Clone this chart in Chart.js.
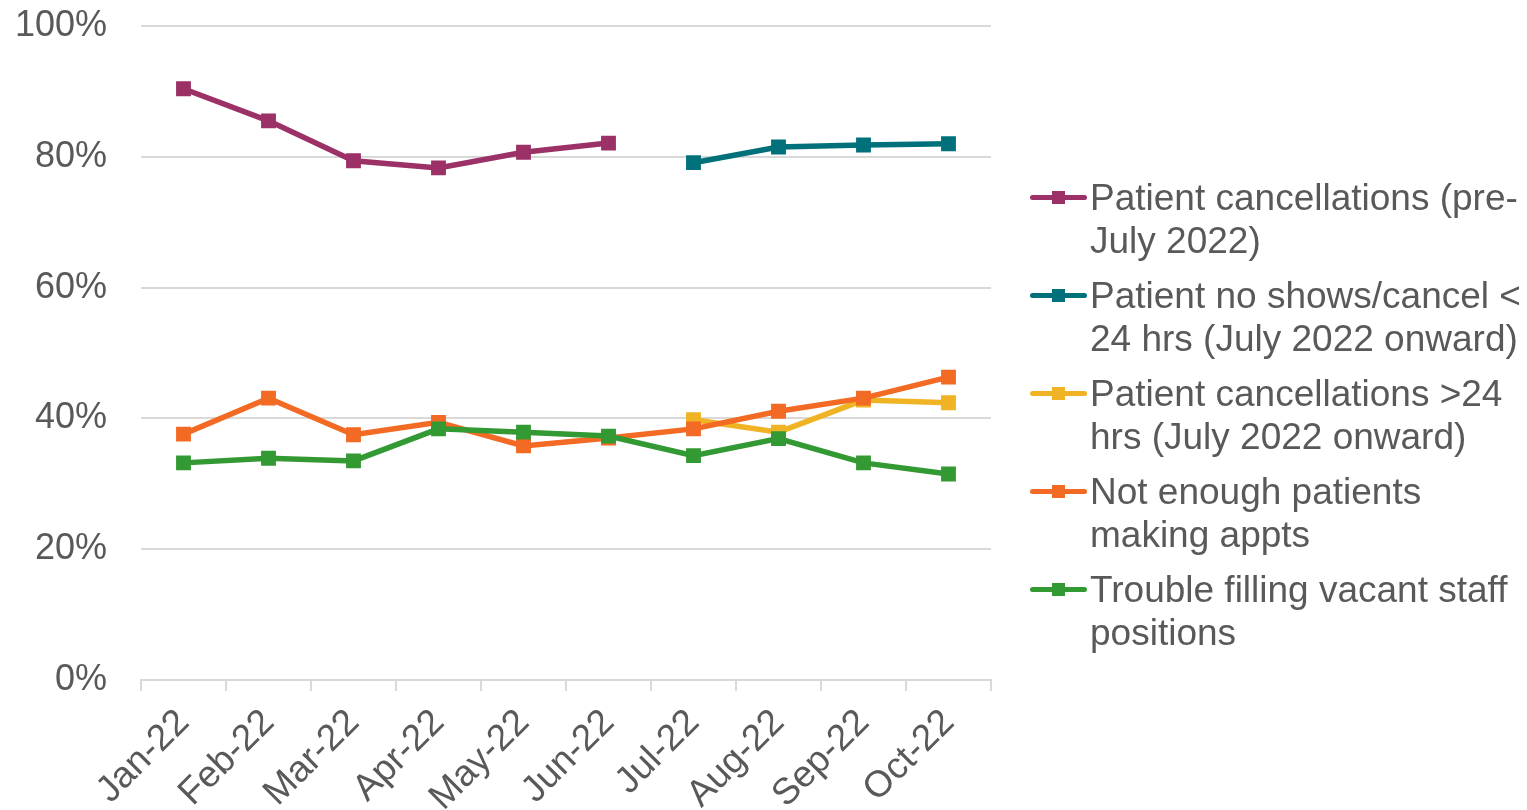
<!DOCTYPE html>
<html>
<head>
<meta charset="utf-8">
<script src="https://cdn.jsdelivr.net/npm/chart.js@4"></script>
<style>
  html, body { margin: 0; padding: 0; background: #fff; }
  #wrap { position: relative; width: 1527px; height: 810px; }
  #c { position: absolute; left: 0; top: 0; }
  #legend { position: absolute; left: 1030px; top: 176px; width: 497px;
    font-family: "Liberation Sans", Arial, sans-serif; font-size: 37px; line-height: 43px; color: #595959; }
  .item { display: flex; align-items: flex-start; margin-bottom: 12px; }
  .sw { flex: 0 0 60px; height: 43px; position: relative; }
  .sw .ln { position: absolute; left: 0; width: 57px; top: 19px; height: 5px; border-radius: 3px; }
  .sw .mk { position: absolute; left: 22px; top: 15px; width: 13px; height: 13px; }
  .tx { flex: 1 1 auto; }
</style>
</head>
<body>
<div id="wrap">
  <canvas id="c" width="1527" height="810"></canvas>
  <div id="legend"></div>
</div>
<script>
const categories = ["Jan-22","Feb-22","Mar-22","Apr-22","May-22","Jun-22","Jul-22","Aug-22","Sep-22","Oct-22"];
const yTickLabels = ["0%","20%","40%","60%","80%","100%"];

const seriesNames = [
  "Patient cancellations (pre-July 2022)",
  "Patient no shows/cancel < 24 hrs (July 2022 onward)",
  "Patient cancellations >24 hrs (July 2022 onward)",
  "Not enough patients making appts",
  "Trouble filling vacant staff positions"
];
const seriesColors = ["#9B3166", "#00707A", "#F0B323", "#F26A23", "#339933"];

const preJulyCancellations = [90.4, 85.5, 79.4, 78.3, 80.7, 82.1, null, null, null, null];
const noShowsUnder24 = [null, null, null, null, null, null, 79.1, 81.5, 81.8, 82.0];
const cancellationsOver24 = [null, null, null, null, null, null, 39.8, 37.9, 42.8, 42.4];
const notEnoughPatients = [37.6, 43.1, 37.5, 39.4, 35.8, 37.0, 38.4, 41.1, 43.1, 46.3];
const troubleFillingStaff = [33.2, 33.9, 33.5, 38.4, 37.9, 37.3, 34.3, 36.9, 33.2, 31.5];

const seriesValues = [preJulyCancellations, noShowsUnder24, cancellationsOver24, notEnoughPatients, troubleFillingStaff];
const drawOrder = [4, 3, 2, 1, 0]; // later series drawn on top

const FONT = "'Liberation Sans', Arial, sans-serif";
const GREY = "#595959";
const GRID = "#D9D9D9";

const datasets = seriesValues.map((vals, i) => ({
  label: seriesNames[i],
  data: vals,
  borderColor: seriesColors[i],
  backgroundColor: seriesColors[i],
  borderWidth: 5.5,
  pointStyle: 'rect',
  pointRadius: 10.5,
  pointHoverRadius: 10.5,
  pointBorderWidth: 0,
  spanGaps: false,
  tension: 0,
  order: drawOrder[i]
}));

new Chart(document.getElementById('c'), {
  type: 'line',
  data: { labels: categories, datasets },
  options: {
    responsive: false,
    animation: false,
    devicePixelRatio: 1,
    layout: { padding: { top: 26, right: 536, bottom: 0, left: 0 } },
    plugins: { legend: { display: false }, tooltip: { enabled: false } },
    scales: {
      x: {
        offset: true,
        grid: { offset: true, drawOnChartArea: false, drawTicks: true, tickLength: 11, color: GRID, lineWidth: 2 },
        border: { display: true, color: GRID, width: 2 },
        ticks: { color: GREY, font: { family: FONT, size: 37 }, minRotation: 45, maxRotation: 45, padding: 10, autoSkip: false },
        afterFit: (s) => { s.height = 130; s.paddingLeft = 0; s.paddingRight = 0; }
      },
      y: {
        min: 0, max: 100,
        ticks: { stepSize: 20, color: GREY, font: { family: FONT, size: 36 }, padding: 34,
          callback: (v) => yTickLabels[Math.round(v / 20)] },
        grid: { color: GRID, lineWidth: 2, drawTicks: false },
        border: { display: false },
        afterFit: (s) => { s.width = 141; s.paddingTop = 0; s.paddingBottom = 0; }
      }
    }
  }
});

const legend = document.getElementById('legend');
seriesNames.forEach((name, i) => {
  const item = document.createElement('div');
  item.className = 'item';
  item.innerHTML = '<div class="sw"><div class="ln" style="background:' + seriesColors[i] + '"></div><div class="mk" style="background:' + seriesColors[i] + '"></div></div>';
  const tx = document.createElement('div');
  tx.className = 'tx';
  tx.textContent = name;
  item.appendChild(tx);
  legend.appendChild(item);
});
</script>
</body>
</html>
